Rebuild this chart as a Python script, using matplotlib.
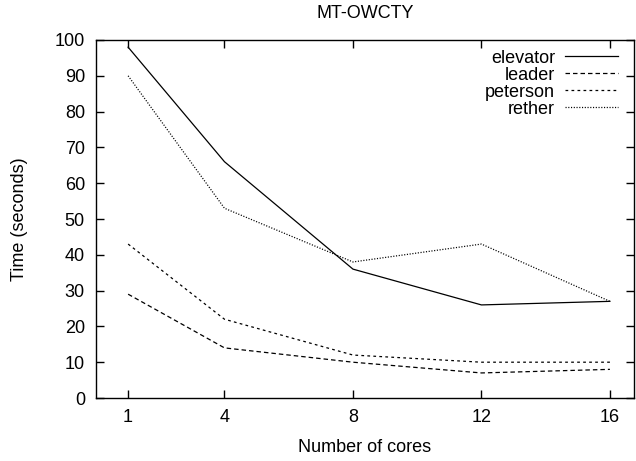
import matplotlib
matplotlib.use('Agg')
import matplotlib.pyplot as plt

plt.rcParams['font.family'] = ['Liberation Sans', 'DejaVu Sans']

cores = [1, 4, 8, 12, 16]
elevator = [98, 66, 36, 26, 27]
leader = [29, 14, 10, 7, 8]
peterson = [43, 22, 12, 10, 10]
rether = [90, 53, 38, 43, 27]

fs = 13

fig = plt.figure(figsize=(6.36, 4.61), dpi=100)
# axes box: x 96..634, y 40..398 px
ax = fig.add_axes([96 / 636, 63 / 461, 538 / 636, 358 / 461])

ax.plot(cores, elevator, color='black', lw=0.9, ls='-', label='elevator')
ax.plot(cores, leader, color='black', lw=0.9, ls=(0, (3.6, 2.4)), label='leader')
ax.plot(cores, peterson, color='black', lw=0.9, ls=(0, (2.2, 2.6)), label='peterson')
ax.plot(cores, rether, color='black', lw=0.9, ls=(0, (0.9, 1.3)), label='rether')

ax.set_xlim(0, 16.75)
ax.set_ylim(0, 100)
ax.set_xticks(cores)
ax.set_yticks(range(0, 101, 10))
ax.tick_params(direction='in', top=True, right=True, length=6, width=1, labelsize=fs, pad=8)
for s in ax.spines.values():
    s.set_linewidth(1)

ax.set_xlabel('Number of cores', fontsize=fs, labelpad=9)
ax.set_ylabel('Time (seconds)', fontsize=fs, labelpad=19)
ax.set_title('MT-OWCTY', fontsize=fs, pad=16)

leg = ax.legend(loc='upper right', frameon=False, markerfirst=False, fontsize=fs,
                handlelength=2.93, labelspacing=0.0, handletextpad=0.55,
                borderpad=0, borderaxespad=0, bbox_to_anchor=(0.970, 0.973))
for t in leg.get_texts():
    t.set_ha('right')

fig.savefig('out.png', dpi=100)
